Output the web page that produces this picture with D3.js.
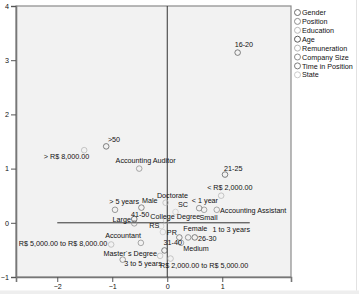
<!DOCTYPE html>
<html>
<head>
<meta charset="utf-8">
<script src="https://cdn.jsdelivr.net/npm/d3@7"></script>
<style>
  html, body { margin: 0; padding: 0; background: #fff; }
  #chart { width: 359px; height: 294px; }
  text { font-family: "Liberation Sans", Arial, sans-serif; }
</style>
</head>
<body>
<div id="chart"></div>
<script>
/* ---------- data ---------- */
const groups = ["Gender", "Position", "Education", "Age", "Remuneration",
                "Company Size", "Time in Position", "State"];

const pointNames = [
  "16-20", ">50", "> R$ 8,000.00", "Accounting Auditor", "21-25", "< R$ 2,000.00",
  "Doctorate", "Male", "> 5 years", "SC", "< 1 year", "Small", "Accounting Assistant",
  "Large", "41-50", "College Degree", "RS", "PR", "Female", "1 to 3 years", "26-30",
  "Accountant", "R$ 5,000.00 to R$ 8,000.00", "31-40", "Medium", "Master´s Degree",
  "3 to 5 years", "R$ 2,000.00 to R$ 5,000.00"
];
const pointGroups = [
  "Age", "Age", "Remuneration", "Position", "Age", "Remuneration",
  "Education", "Gender", "Time in Position", "State", "Time in Position", "Company Size", "Position",
  "Company Size", "Age", "Education", "State", "State", "Gender", "Time in Position", "Age",
  "Position", "Remuneration", "Age", "Company Size", "Education",
  "Time in Position", "Remuneration"
];
const dim1 = [
  1.28, -1.11, -1.51, -0.51, 1.05, 0.98,
  -0.03, -0.47, -0.95, 0.15, 0.58, 0.67, 0.90,
  -0.60, -0.60, -0.02, -0.11, -0.08, 0.22, 0.38, 0.50,
  -0.48, -1.02, -0.05, 0.25, -0.13,
  -0.81, 0.06
];
const dim2 = [
  3.14, 1.41, 1.34, 1.00, 0.89, 0.50,
  0.37, 0.28, 0.24, 0.20, 0.27, 0.24, 0.24,
  -0.01, 0.07, 0.04, -0.06, -0.17, -0.27, -0.27, -0.27,
  -0.37, -0.40, -0.51, -0.37, -0.61,
  -0.68, -0.66
];
const xTicks = [-2, -1, 0, 1];
const yTicks = [-1, 0, 1, 2, 3, 4];

/* ---------- styles ---------- */
const groupColor = {
  "Gender": "#6a6a6a", "Position": "#8c8c8c", "Education": "#b8b8b8", "Age": "#5a5a5a",
  "Remuneration": "#b4b4b4", "Company Size": "#8c8c8c", "Time in Position": "#7c7c7c",
  "State": "#cacaca"
};
// label offset from point centre: [dx, dy, anchor]
const labelPos = {
  "16-20": [-3, -5.7, "start"], ">50": [1.7, -4.7, "start"],
  "> R$ 8,000.00": [5, 8.7, "end"], "Accounting Auditor": [-23.6, -5.3, "start"],
  "21-25": [-1, -3.3, "start"], "< R$ 2,000.00": [-14, -5.8, "start"],
  "Doctorate": [-8.7, -4.9, "start"], "Male": [0.6, -5, "start"],
  "> 5 years": [24, -5.6, "end"], "SC": [2.5, -4.8, "start"],
  "< 1 year": [-7.3, -5.1, "start"], "Small": [-4.6, 10.7, "start"],
  "Accounting Assistant": [3.3, 3.4, "start"], "Large": [-3.3, -1.5, "end"],
  "41-50": [-3.3, -2.5, "start"], "College Degree": [-15.8, -1.6, "start"],
  "RS": [-12, 2.2, "start"], "PR": [4, 3.1, "start"],
  "Female": [4, -6, "start"], "1 to 3 years": [24.4, -5.3, "start"],
  "26-30": [3.3, 3.5, "start"], "Accountant": [-35.7, -4.9, "start"],
  "R$ 5,000.00 to R$ 8,000.00": [-4, 2, "end"], "31-40": [-1, -5, "start"],
  "Medium": [2.2, 7.7, "start"], "Master´s Degree": [-3, 0, "end"],
  "3 to 5 years": [1.6, 6, "start"], "R$ 2,000.00 to R$ 5,000.00": [-10.5, 9.7, "start"]
};

/* ---------- draw ---------- */
const W = 359, H = 294;
const plot = { left: 16, right: 291, top: 6, bottom: 277 };
const FS = 7.2;

const svg = d3.select("#chart").append("svg")
  .attr("width", W).attr("height", H);

// faint page edges
svg.append("rect").attr("x", 0).attr("y", 290.5).attr("width", W).attr("height", 4).attr("fill", "#eeeeee");
svg.append("line").attr("x1", 356.5).attr("x2", 356.5).attr("y1", 0).attr("y2", 290.5)
  .attr("stroke", "#e2e2e2");

const x = d3.scaleLinear().domain([-2.75, 2.25]).range([plot.left, plot.right]);
const y = d3.scaleLinear().domain([-1, 4]).range([plot.bottom, plot.top]);

// plot background + frame
svg.append("rect")
  .attr("x", plot.left).attr("y", plot.top)
  .attr("width", plot.right - plot.left).attr("height", plot.bottom - plot.top)
  .attr("fill", "#f2f2f2").attr("stroke", "#8a8a8a").attr("stroke-width", 1.2);

// axes
const xAxis = svg.append("g")
  .attr("transform", `translate(0,${plot.bottom})`)
  .call(d3.axisBottom(x).tickValues(xTicks).tickSize(5).tickPadding(2).tickFormat(d3.format("d")));
const yAxis = svg.append("g")
  .attr("transform", `translate(${plot.left},0)`)
  .call(d3.axisLeft(y).tickValues(yTicks).tickSize(5).tickPadding(2).tickFormat(d3.format("d")));
[xAxis, yAxis].forEach(g => {
  g.select(".domain").attr("stroke", "#777").attr("stroke-width", 1.6);
  g.selectAll(".tick line").attr("stroke", "#555");
  g.selectAll(".tick text").attr("font-size", FS).attr("fill", "#111")
    .attr("font-family", "Liberation Sans, Arial, sans-serif");
});

// reference lines at 0
svg.append("line")
  .attr("x1", x(0)).attr("x2", x(0)).attr("y1", plot.top).attr("y2", plot.bottom)
  .attr("stroke", "#333").attr("stroke-width", 1);
svg.append("line")
  .attr("x1", x(-2)).attr("x2", x(1.5)).attr("y1", y(0)).attr("y2", y(0))
  .attr("stroke", "#333").attr("stroke-width", 1);

// points + labels
const pts = pointNames.map((n, i) => ({ name: n, group: pointGroups[i], d1: dim1[i], d2: dim2[i] }));

svg.append("g").selectAll("circle")
  .data(pts).join("circle")
    .attr("cx", d => x(d.d1))
    .attr("cy", d => y(d.d2))
    .attr("r", 2.8)
    .attr("fill", "none")
    .attr("stroke", d => groupColor[d.group])
    .attr("stroke-opacity", 0.75)
    .attr("stroke-width", 1);

svg.append("g").selectAll("text")
  .data(pts).join("text")
    .attr("x", d => x(d.d1) + labelPos[d.name][0])
    .attr("y", d => y(d.d2) + labelPos[d.name][1])
    .attr("text-anchor", d => labelPos[d.name][2])
    .attr("font-size", FS)
    .attr("fill", "#111")
    .text(d => d.name);

// legend
const legend = svg.append("g").attr("transform", "translate(297.5, 12.5)");
const leg = legend.selectAll("g")
  .data(groups).join("g")
    .attr("transform", (d, i) => `translate(0, ${i * 8.9})`);
leg.append("circle").attr("r", 3).attr("fill", "none")
  .attr("stroke", d => groupColor[d]).attr("stroke-width", 1);
leg.append("text").attr("x", 4.5).attr("y", 2.6)
  .attr("font-size", FS).attr("fill", "#111")
  .text(d => d);
</script>
</body>
</html>
